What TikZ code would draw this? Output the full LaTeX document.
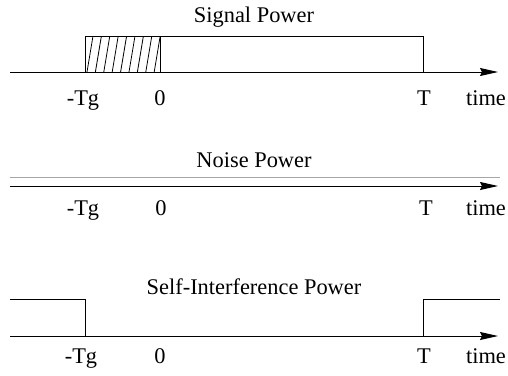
\documentclass[tikz,border=0pt]{standalone}
\usepackage{fontspec}
\setmainfont{Liberation Serif}
\usepackage{tikz}
\usetikzlibrary{arrows.meta}

\begin{document}
\begin{tikzpicture}[
x=0.5pt, y=-0.5pt,
lbl/.style={font=\fontsize{11.2}{13.5}\selectfont, inner sep=0pt, anchor=base},
axis/.style={-{Stealth[length=9pt,width=4pt,inset=1pt]}, line width=0.5pt},
pulse/.style={line width=0.45pt},
hatch/.style={line width=0.4pt}
]
\useasboundingbox (0,0) rectangle (508,375);

% signal power
\node[lbl] (sigtitle) at (254,22) {Signal Power};
\coordinate (sa) at (10,72);
\coordinate (sb) at (498,72);
\draw[axis] (sa) -- (sb);
\draw[pulse] (85,72) -- (85,36) -- (423,36) -- (423,72);
\draw[pulse] (160,36) -- (160,72);
\begin{scope}
\clip (85,36) rectangle (160,72);
\foreach \h in {0,...,8}
  \draw[hatch] (87+8.4*\h,72) -- (93+8.4*\h,36);
\end{scope}
\node[lbl] (stg) at (83,105) {-Tg};
\node[lbl] (szero) at (160,105) {0};
\node[lbl] (st) at (424,105) {T};
\node[lbl] (stime) at (486,105) {time};

% noise power
\node[lbl] (noititle) at (254,167) {Noise Power};
\coordinate (na) at (10,186);
\coordinate (nb) at (498,186);
\draw[axis] (na) -- (nb);
\draw[pulse, gray!70] (10,177) -- (500,177);
\node[lbl] (ntg) at (83,215) {-Tg};
\node[lbl] (nzero) at (161,215) {0};
\node[lbl] (nt) at (426,215) {T};
\node[lbl] (ntime) at (486,215) {time};

% self-interference power
\node[lbl] (sititle) at (254,294) {Self-Interference Power};
\coordinate (ia) at (10,336);
\coordinate (ib) at (498,336);
\draw[axis] (ia) -- (ib);
\draw[pulse] (10,299) -- (85,299) -- (85,336);
\draw[pulse] (423,336) -- (423,299) -- (500,299);
\node[lbl] (itg) at (81,363) {-Tg};
\node[lbl] (izero) at (160,363) {0};
\node[lbl] (it) at (424,363) {T};
\node[lbl] (itime) at (486,363) {time};
\end{tikzpicture}
\end{document}
